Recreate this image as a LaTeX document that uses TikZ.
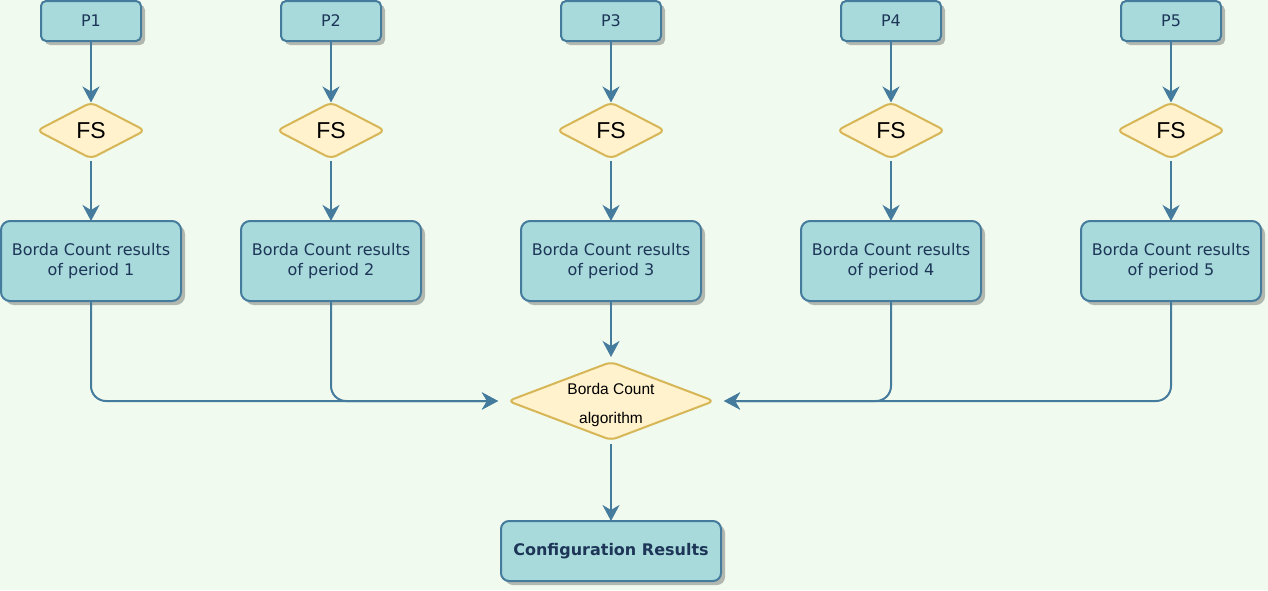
\documentclass[tikz,border=0pt]{standalone}
\usepackage{fontspec}
\setmainfont{DejaVu Sans}
\newfontfamily\helvfont{Liberation Sans}
\usepackage{tikz}
\usetikzlibrary{shapes.geometric, arrows.meta, shadows, positioning}

\definecolor{bgcol}{HTML}{F1FAEE}
\definecolor{boxfill}{HTML}{A8DADC}
\definecolor{boxline}{HTML}{457B9D}
\definecolor{boxtext}{HTML}{1D3557}
\definecolor{decfill}{HTML}{FFF2CC}
\definecolor{decline}{HTML}{D6B656}
\definecolor{shadowcol}{HTML}{B2B8B0}

\begin{document}
\begin{tikzpicture}[x=1pt,y=-1pt,every node/.style={outer sep=0pt}]
\tikzstyle{pbox}=[draw=boxline,fill=boxfill,line width=2pt,rounded corners=5pt,text=boxtext,font=\fontsize{16}{20}\selectfont,minimum width=100pt,minimum height=40pt,inner sep=0pt,drop shadow={shadow xshift=4pt,shadow yshift=-4pt,fill=shadowcol,opacity=1}]
\tikzstyle{resbox}=[pbox,minimum width=180pt,minimum height=80pt,rounded corners=9pt,align=center]
\tikzstyle{fsdec}=[diamond,draw=decline,fill=decfill,line width=2pt,rounded corners=6pt,aspect=2,minimum width=108pt,minimum height=56pt,inner sep=0pt,font=\helvfont\fontsize{23}{28}\selectfont]
\tikzstyle{flow}=[draw=boxline,line width=2pt,-{Stealth[length=16pt,width=17pt,inset=5pt]}]

\useasboundingbox[fill=bgcol] (0,0) rectangle (1268,590);

% periods
\node (P1) [pbox] at (91,21) {P1};
\node (P2) [pbox] at (331,21) {P2};
\node (P3) [pbox] at (611,21) {P3};
\node (P4) [pbox] at (891,21) {P4};
\node (P5) [pbox] at (1171,21) {P5};

\node (FS1) [fsdec] at (91,130.5) {FS};
\node (FS2) [fsdec] at (331,130.5) {FS};
\node (FS3) [fsdec] at (611,130.5) {FS};
\node (FS4) [fsdec] at (891,130.5) {FS};
\node (FS5) [fsdec] at (1171,130.5) {FS};

\node (B1) [resbox] at (91,261) {Borda Count results\\of period 1};
\node (B2) [resbox] at (331,261) {Borda Count results\\of period 2};
\node (B3) [resbox] at (611,261) {Borda Count results\\of period 3};
\node (B4) [resbox] at (891,261) {Borda Count results\\of period 4};
\node (B5) [resbox] at (1171,261) {Borda Count results\\of period 5};

% voting step
\node (alg) [fsdec,aspect=2.7,minimum width=206pt,minimum height=78pt] at (611,401) {};
\node (algtext) [font=\helvfont\fontsize{15.5}{29}\selectfont,align=center,inner sep=0pt] at (611,405) {Borda Count\\algorithm};

\node (conf) [pbox,minimum width=220pt,minimum height=60pt,rounded corners=8pt,font=\bfseries\fontsize{16}{20}\selectfont] at (611,551) {Configuration Results};

\coordinate (inL) at ([xshift=-10pt]alg.west);
\coordinate (inR) at ([xshift=10pt]alg.east);

\draw [flow] (P1) -- (FS1);
\draw [flow] (P2) -- (FS2);
\draw [flow] (P3) -- (FS3);
\draw [flow] (P4) -- (FS4);
\draw [flow] (P5) -- (FS5);

\draw [flow,shorten <=2pt] (FS1) -- (B1);
\draw [flow,shorten <=2pt] (FS2) -- (B2);
\draw [flow,shorten <=2pt] (FS3) -- (B3);
\draw [flow,shorten <=2pt] (FS4) -- (B4);
\draw [flow,shorten <=2pt] (FS5) -- (B5);

\draw [flow,rounded corners=15pt] (B1.south) |- (inL);
\draw [flow,rounded corners=15pt] (B2.south) |- (inL);
\draw [flow,shorten >=5pt] (B3) -- (alg);
\draw [flow,rounded corners=15pt] (B4.south) |- (inR);
\draw [flow,rounded corners=15pt] (B5.south) |- (inR);

\draw [flow,shorten <=4pt] (alg) -- (conf);
\end{tikzpicture}
\end{document}
